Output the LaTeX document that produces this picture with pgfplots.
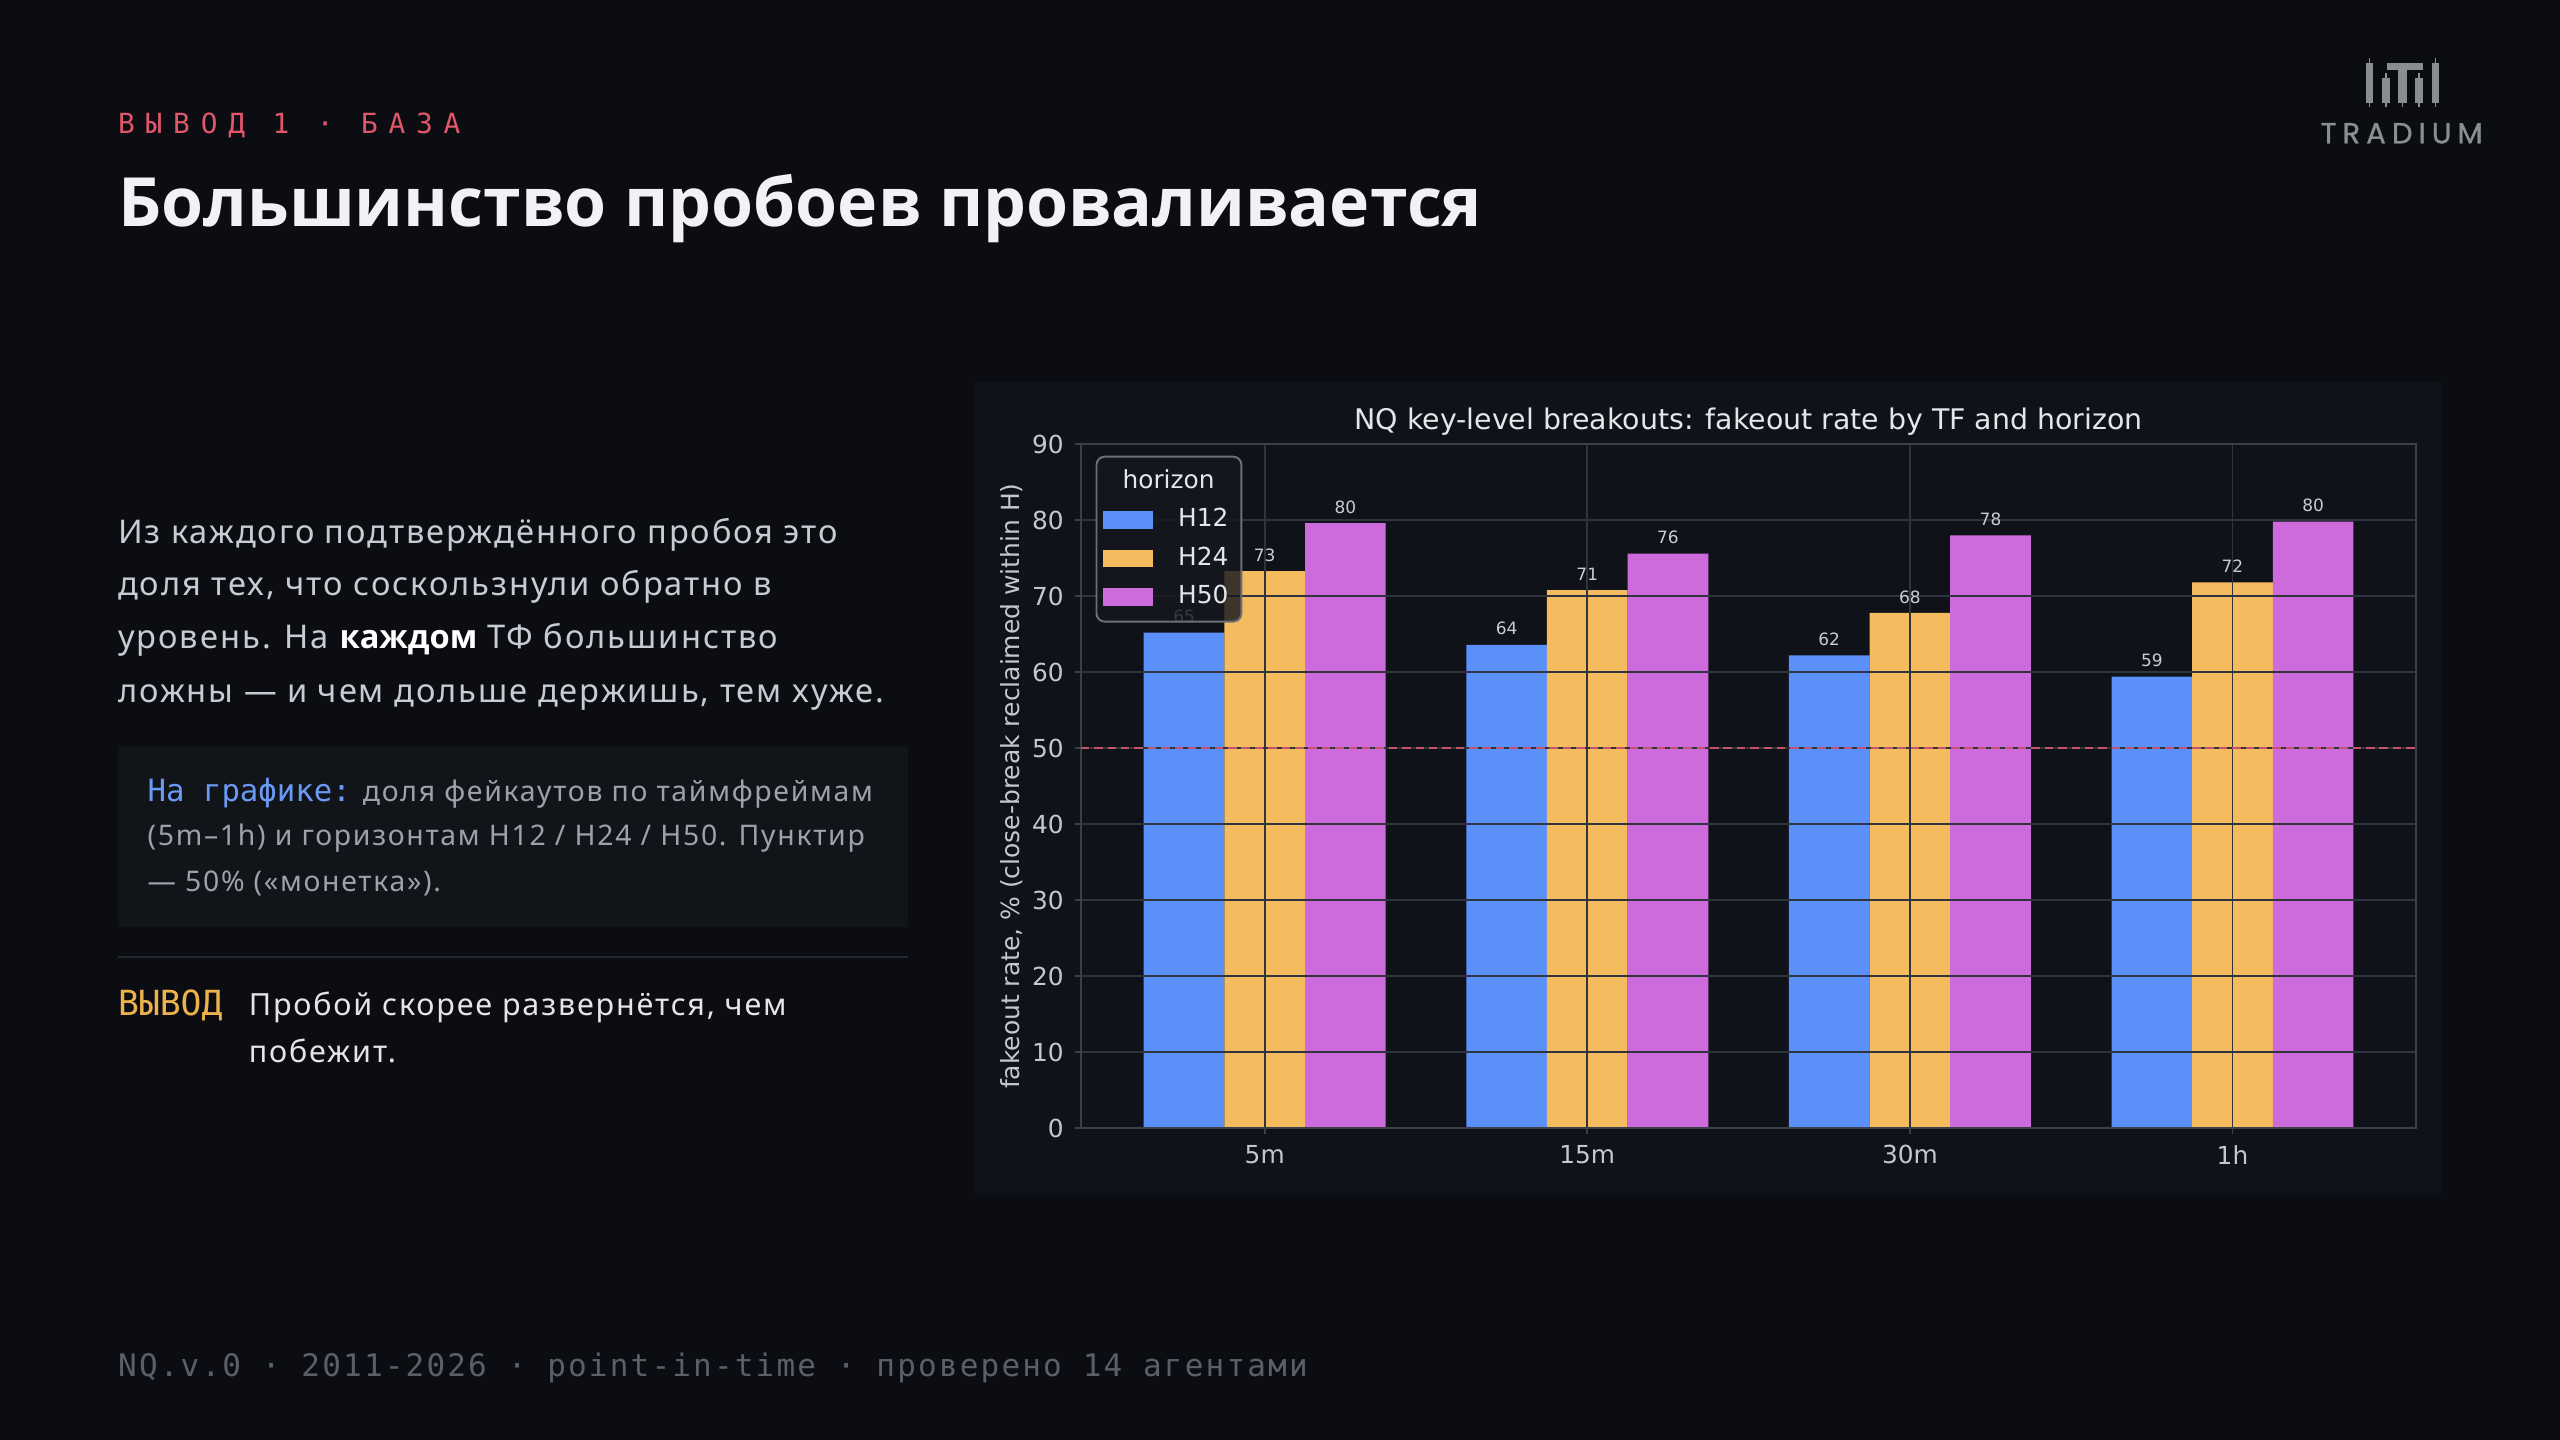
\documentclass[border=0pt]{standalone}
\usepackage{fontspec}
\usepackage{pgfplots}
\pgfplotsset{compat=1.18}
\setmainfont{Noto Sans}
\newfontfamily\dv{DejaVu Sans}
\newfontfamily\body[LetterSpace=6]{Noto Sans}
\newfontfamily\osans{Open Sans}
\newfontfamily\mono{DejaVu Sans Mono}
\newfontfamily\monofoot[LetterSpace=7]{DejaVu Sans Mono}
\newfontfamily\monokick[LetterSpace=39]{DejaVu Sans Mono}
\newfontfamily\pop[LetterSpace=21, FakeBold=1]{Poppins}

\definecolor{pagebg}{HTML}{0B0D12}
\definecolor{panelbg}{HTML}{0F1218}
\definecolor{frame}{HTML}{3A3F48}
\definecolor{gridc}{HTML}{30343C}
\definecolor{tickc}{HTML}{C3C7CE}
\definecolor{ctitle}{HTML}{E4E6EA}
\definecolor{valc}{HTML}{C9CCD2}
\definecolor{hA}{HTML}{5B8FF9}
\definecolor{hB}{HTML}{F5BB5F}
\definecolor{hC}{HTML}{CE6BDC}
\definecolor{dashc}{HTML}{C4546B}
\definecolor{legbg}{HTML}{15181E}
\definecolor{legdraw}{HTML}{6B6F76}
\definecolor{kick}{HTML}{E0566A}
\definecolor{titlec}{HTML}{F1F2F4}
\definecolor{bodyc}{HTML}{C8CBD1}
\definecolor{boxbg}{HTML}{111419}
\definecolor{boxblue}{HTML}{6B9AF5}
\definecolor{boxtext}{HTML}{9CA1AA}
\definecolor{sepc}{HTML}{23272E}
\definecolor{gold}{HTML}{EDB24B}
\definecolor{concl}{HTML}{E3E5E9}
\definecolor{footc}{HTML}{5A5F68}
\definecolor{logoc}{HTML}{8A8D92}

\pgfplotsset{
  vals/.style={nodes near coords,
    every node near coord/.append style={font=\dv\fontsize{5.2pt}{6pt}\selectfont, text=valc, yshift=-0.6pt,
      /pgf/number format/fixed, /pgf/number format/precision=0,
      /pgf/number format/assume math mode=true}},
  barleg/.style={legend image code/.code={\fill[##1, sharp corners, fill opacity=1] (0pt,-2.7pt) rectangle (15.3pt,2.7pt); \path (21pt,0pt);}},
  samebox/.style={at={(331pt,-345.5pt)}, anchor=south west,
    scale only axis, width=409pt, height=209.5pt,
    xmin=-0.57, xmax=3.57, ymin=0, ymax=90},
}

\begin{document}
\begin{tikzpicture}[x=0.5pt,y=-0.5pt]
\useasboundingbox (0,0) rectangle (1568,882);
\fill[pagebg] (0,0) rectangle (1568,882);
\fill[panelbg] (597,234) rectangle (1496,732);

% logo
\fill[logoc] (1449.1,38.4) rectangle (1453.6,62.9);
\draw[logoc, line width=0.5pt] (1451.35,35.7) -- (1451.35,65.3);
\fill[logoc] (1459.1,48) rectangle (1463.8,63.3);
\draw[logoc, line width=0.5pt] (1461.45,44.9) -- (1461.45,65.3);
\fill[logoc] (1462.2,38.4) rectangle (1484.2,42.9);
\fill[logoc] (1469,38.4) rectangle (1474,63.3);
\draw[logoc, line width=0.5pt] (1471.5,60) -- (1471.5,65.3);
\fill[logoc] (1479.2,48) rectangle (1483.9,63.3);
\draw[logoc, line width=0.5pt] (1481.55,44.9) -- (1481.55,65.3);
\fill[logoc] (1489.3,38.4) rectangle (1494,62.9);
\draw[logoc, line width=0.5pt] (1491.65,35.7) -- (1491.65,65.3);
\node[anchor=base west, inner sep=0, text=logoc, font=\pop\fontsize{8.9pt}{10pt}\selectfont] at (1421,87.8) {TRADIUM};

% header
\node[anchor=base west, inner sep=0, text=kick, font=\monokick\fontsize{8.5pt}{10pt}\selectfont] at (72,82) {ВЫВОД 1 · БАЗА};
\node[anchor=base west, inner sep=0, text=titlec, font=\osans\bfseries\fontsize{20.8pt}{24pt}\selectfont] at (72,139) {Большинство пробоев проваливается};

% body
\begin{scope}[every node/.style={anchor=base west, inner sep=0, text=bodyc, font=\body\fontsize{10pt}{12pt}\selectfont}]
\node at (72,333) {Из каждого подтверждённого пробоя это};
\node at (72,365) {доля тех, что соскользнули обратно в};
\node at (72,397) {уровень. На {\osans\bfseries\color{white}каждом} ТФ большинство};
\node at (72,430) {ложны — и чем дольше держишь, тем хуже.};
\end{scope}

\fill[boxbg] (72,457) rectangle (556,568);
\begin{scope}[every node/.style={anchor=base west, inner sep=0, text=boxtext, font=\body\fontsize{8.7pt}{11pt}\selectfont}]
\node at (90,491) {{\mono\fontsize{9.4pt}{11pt}\selectfont\color{boxblue}На графике:} доля фейкаутов по таймфреймам};
\node at (90,518) {(5m–1h) и горизонтам H12 / H24 / H50. Пунктир};
\node at (90,546) {— 50\% («монетка»).};
\end{scope}
\draw[sepc, line width=0.5pt] (72,586) -- (556,586);

\node[anchor=base west, inner sep=0, text=gold, font=\mono\fontsize{10.6pt}{12pt}\selectfont] at (72,622) {ВЫВОД};
\begin{scope}[every node/.style={anchor=base west, inner sep=0, text=concl, font=\body\fontsize{9.35pt}{12pt}\selectfont}]
\node at (152,622) {Пробой скорее развернётся, чем};
\node at (152,651) {побежит.};
\end{scope}

\node[anchor=base west, inner sep=0, text=footc, font=\monofoot\fontsize{9.5pt}{11pt}\selectfont] at (72,843) {NQ.v.0 · 2011-2026 · point-in-time · проверено 14 агентами};

\begin{axis}[
  samebox,
  ybar, bar width=0.25,
  xtick={0,1,2,3}, xticklabels={5m,15m,30m,1h},
  ytick={0,10,...,90},
  tick pos=left, tick align=outside, major tick length=1.75pt,
  tick style={draw=frame, line width=0.5pt},
  axis line style={draw=frame, line width=0.6pt},
  grid=major, major grid style={draw=gridc, line width=0.5pt},
  axis on top,
  axis background/.style={fill=panelbg},
  /pgf/number format/assume math mode=true,
  ticklabel style={font=\dv\fontsize{7.6pt}{9pt}\selectfont, text=tickc},
  title={NQ key-level breakouts: fakeout rate by TF and horizon},
  title style={font=\dv\fontsize{8.7pt}{10pt}\selectfont, text=ctitle, yshift=-7pt},
  ylabel={fakeout rate, \% (close-break reclaimed within H)},
  ylabel style={font=\dv\fontsize{7.65pt}{9pt}\selectfont, text=tickc},
  ylabel shift=-4pt,
  legend style={at={(0.011,0.983)}, anchor=north west, fill=legbg, fill opacity=0.82, text opacity=1,
    draw=legdraw, draw opacity=1, line width=0.6pt, rounded corners=2.5pt, font=\dv\fontsize{7.6pt}{9pt}\selectfont, text=ctitle,
    cells={anchor=west}, row sep=0.6pt, inner sep=2pt},
]
\addlegendimage{empty legend}\addlegendentry{\hspace{-17pt}horizon}
\addplot[fill=hA, draw=none, bar shift=-0.25, vals, barleg]
  coordinates {(0,65.2) (1,63.6) (2,62.2) (3,59.4)};
\addlegendentry{H12}
\addplot[fill=hB, draw=none, bar shift=0, vals, barleg]
  coordinates {(0,73.3) (1,70.8) (2,67.8) (3,71.8)};
\addlegendentry{H24}
\addplot[fill=hC, draw=none, bar shift=0.25, vals, barleg]
  coordinates {(0,79.6) (1,75.6) (2,78.0) (3,79.8)};
\addlegendentry{H50}
\end{axis}
\begin{axis}[samebox, hide axis]
\addplot[sharp plot, draw=dashc, line width=0.7pt, dash pattern=on 2.6pt off 1.5pt]
  coordinates {(-0.57,50) (3.57,50)};
\end{axis}
\end{tikzpicture}
\end{document}
